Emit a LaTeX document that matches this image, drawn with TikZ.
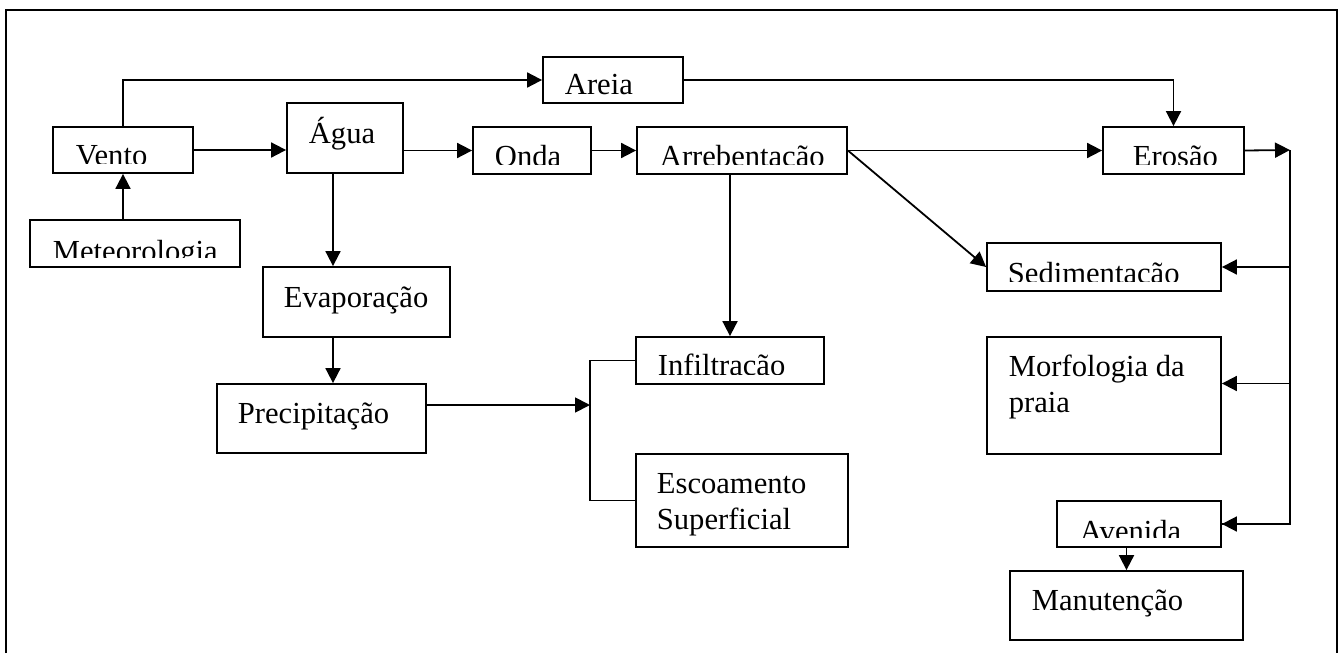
\documentclass[tikz,border=0pt]{standalone}
\usepackage{fontspec}
\setmainfont{Liberation Serif}
\usetikzlibrary{arrows.meta, fit}

% cut the text of a box a little above its lower edge
\newcommand{\cutbox}[1]{\clip (#1.north west) rectangle ([yshift=5pt]#1.south east);}

\begin{document}
\begin{tikzpicture}[x=0.5pt, y=-0.5pt, line width=0.9pt,
      >={Triangle[length=7.5pt, width=7.5pt]},
      box/.style={draw, inner sep=0pt},
      txt/.style={anchor=base west, inner sep=0pt, align=left,
                  font=\fontsize{15.3}{18}\selectfont},
      arr/.style={->}]

    \useasboundingbox (0,0) rectangle (1343,653);

    % ============================
    % FRAME (open at the bottom)
    % ============================
    \draw[line width=1.1pt] (6,653) -- (6,10) -- (1337,10) -- (1337,653);

    % ============================
    % BOXES
    % ============================
    \node[box, fit={(53,127) (193,173)}]    (vento)  {};
    \node[box, fit={(30,220) (240,267)}]    (meteo)  {};
    \node[box, fit={(287,103) (403,173)}]   (agua)   {};
    \node[box, fit={(263,267) (450,337)}]   (evap)   {};
    \node[box, fit={(217,384) (426,453)}]   (precip) {};
    \node[box, fit={(543,57) (683,103)}]    (areia)  {};
    \node[box, fit={(473,127) (591,174)}]   (onda)   {};
    \node[box, fit={(637,127) (847,174)}]   (arreb)  {};
    \node[box, fit={(636,337) (824,384)}]   (infil)  {};
    \node[box, fit={(636,454) (848,547)}]   (escoam) {};
    \node[box, fit={(1103,127) (1244,174)}] (erosao) {};
    \node[box, fit={(987,243) (1221,291)}]  (sedim)  {};
    \node[box, fit={(987,337) (1221,454)}]  (morf)   {};
    \node[box, fit={(1057,501) (1221,547)}] (aven)   {};
    \node[box, fit={(1010,571) (1243,640)}] (manut)  {};

    % ============================
    % TEXTS (two-line texts sit on their last line)
    % ============================
    \node[txt] (tagua)   at (308,143)  {Água};
    \node[txt] (tevap)   at (283,307)  {Evaporação};
    \node[txt] (tprecip) at (237,423)  {Precipitação};
    \node[txt] (tareia)  at (564,94)   {Areia};
    \node[txt] (tescoam) at (656,529)  {Escoamento\\Superficial};
    \node[txt] (tmorf)   at (1008,412) {Morfologia da\\praia};
    \node[txt] (tmanut)  at (1031,610) {Manutenção};

    % texts cut at the bottom
    \begin{scope}\cutbox{vento}  \node[txt] (tvento)  at (75,165)   {Vento};        \end{scope}
    \begin{scope}\cutbox{meteo}  \node[txt] (tmeteo)  at (52,261)   {Meteorologia}; \end{scope}
    \begin{scope}\cutbox{onda}   \node[txt] (tonda)   at (494,166)  {Onda};         \end{scope}
    \begin{scope}\cutbox{arreb}  \node[txt] (tarreb)  at (659,166)  {Arrebentação}; \end{scope}
    \begin{scope}\cutbox{infil}  \node[txt] (tinfil)  at (657,375)  {Infiltração};  \end{scope}
    \begin{scope}\cutbox{erosao} \node[txt] (terosao) at (1132,166) {Erosão};       \end{scope}
    \begin{scope}\cutbox{sedim}  \node[txt] (tsedim)  at (1007,283) {Sedimentação}; \end{scope}
    \begin{scope}\cutbox{aven}   \node[txt] (taven)   at (1079,541) {Avenida};      \end{scope}

    % ============================
    % CONNECTORS
    % ============================
    \coordinate (split)  at (590,405);
    \coordinate (bus)    at (1290,150);
    \coordinate (morfin) at ([yshift=6pt]morf.east);

    \draw[arr] (vento.south |- meteo.north) -- (vento.south);
    \draw[arr] (vento.east) -- (vento.east -| agua.west);
    \draw[arr] (vento.north) |- (areia.west);
    \draw[arr] (areia.east) -| (erosao.north);
    \draw[arr] (agua.east |- onda.west) -- (onda.west);
    \draw[arr] (onda.east) -- (arreb.west);
    \draw[arr] (arreb.east) -- (erosao.west);
    \draw[arr] (arreb.east) -- (sedim.west);
    \draw[arr] (infil.north |- arreb.south) -- (infil.north);

    % water down to the ground
    \draw[arr] ([xshift=-6pt]agua.south) -- ([xshift=-6pt]agua.south |- evap.north);
    \draw[arr] ([xshift=-6pt]agua.south |- evap.south) -- ([xshift=-6pt]agua.south |- precip.north);
    \draw[arr] (precip.east |- split) -- (split);
    \draw (infil.west) -| (split) |- (escoam.west);

    % erosion bus on the right
    \draw[arr] (erosao.east) -- (bus);
    \draw (bus) |- (aven.east);
    \draw[arr] (bus |- sedim.east) -- (sedim.east);
    \draw[arr] (bus |- morfin) -- (morfin);
    \draw[arr] (bus |- aven.east) -- (aven.east);
    \draw[arr] (manut.north |- aven.south) -- (manut.north);

\end{tikzpicture}
\end{document}
